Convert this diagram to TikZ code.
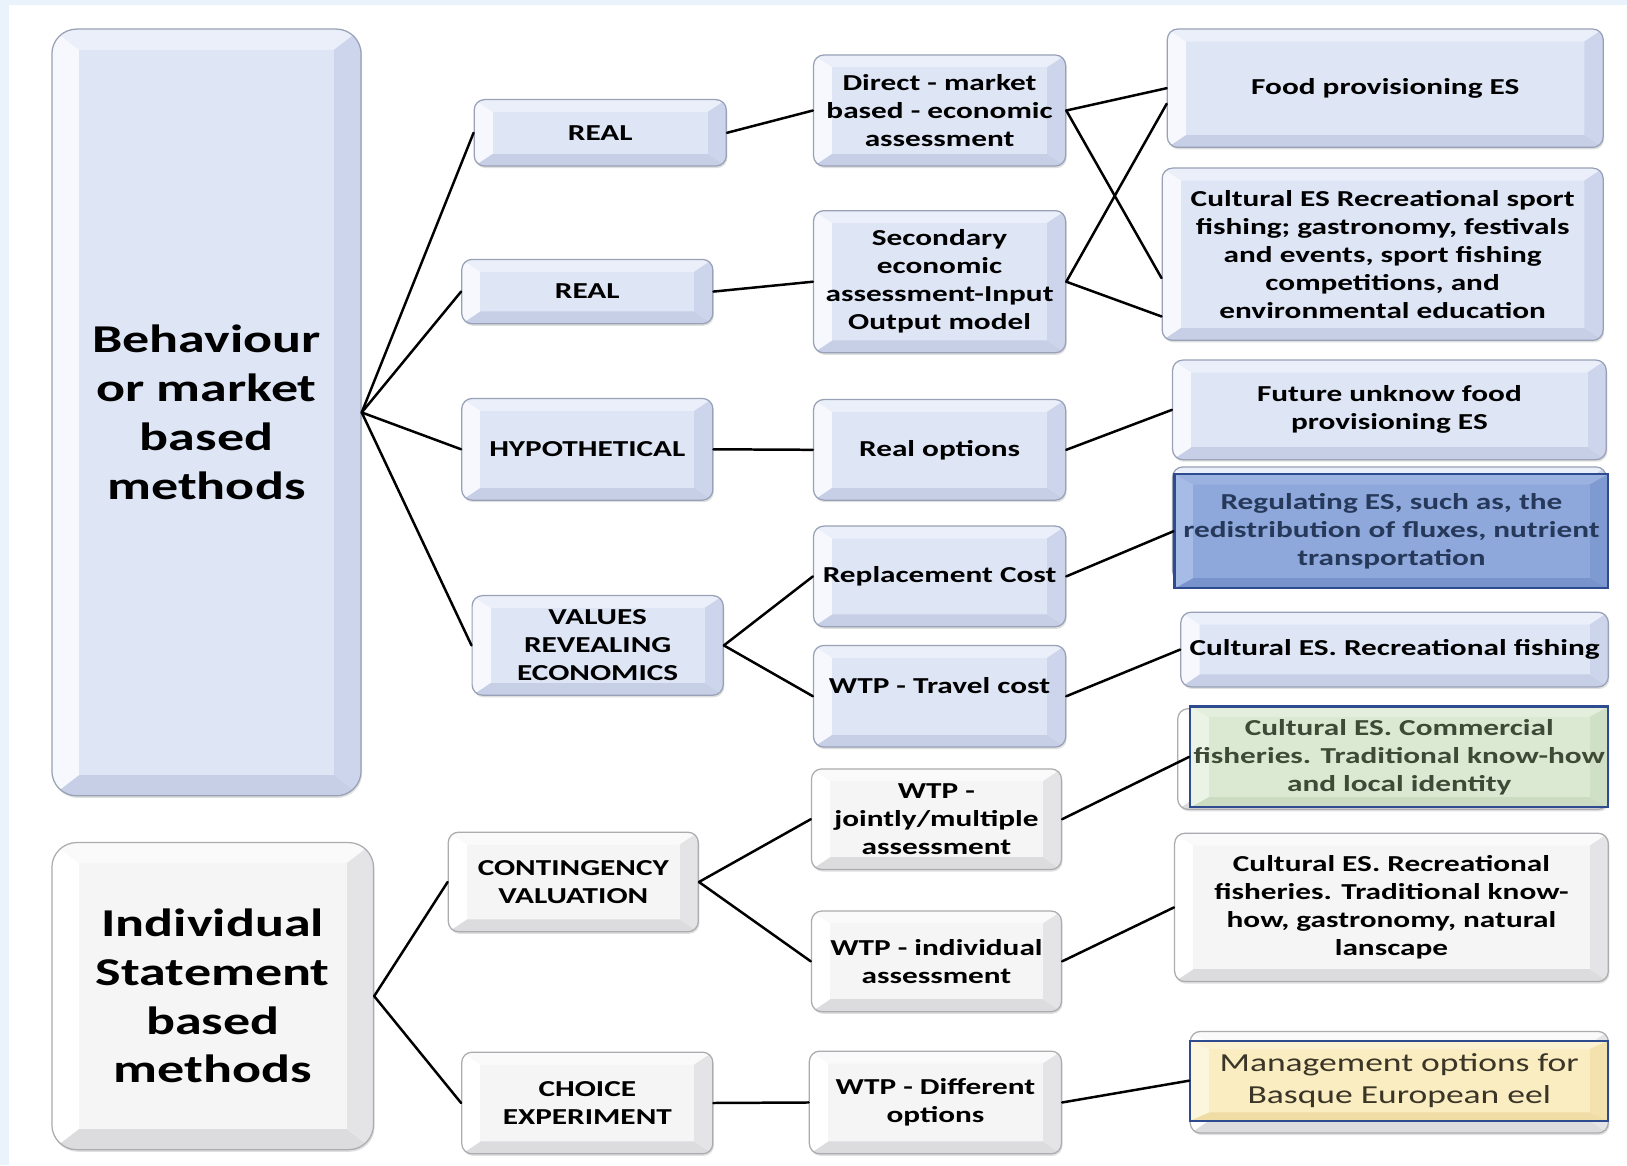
\documentclass[tikz,border=0pt]{standalone}
\usepackage{fontspec}
\newfontfamily\cf{Carlito}[FakeStretch=1.37]
\usetikzlibrary{calc,shadows}
% lavender bevel
\definecolor{lin}{HTML}{DEE5F5}
\definecolor{ltop}{HTML}{EAEFFA}
\definecolor{llft}{HTML}{F6F8FD}
\definecolor{lrgt}{HTML}{CCD5EB}
\definecolor{lbot}{HTML}{C6CFE6}
\definecolor{ldraw}{HTML}{98A1B6}
% gray bevel
\definecolor{gin}{HTML}{F5F5F6}
\definecolor{gtop}{HTML}{FAFAFA}
\definecolor{glft}{HTML}{FFFFFF}
\definecolor{grgt}{HTML}{E4E4E6}
\definecolor{gbot}{HTML}{DCDCDE}
\definecolor{gdraw}{HTML}{ACACB0}
% blue tinted
\definecolor{rin}{HTML}{8EA8DB}
\definecolor{rtop}{HTML}{9BB2E1}
\definecolor{rlft}{HTML}{A6BCE6}
\definecolor{rrgt}{HTML}{7F9AD1}
\definecolor{rbot}{HTML}{7993CC}
\definecolor{regtext}{HTML}{27395A}
% green tinted
\definecolor{nin}{HTML}{DBE9D3}
\definecolor{ntop}{HTML}{E3EEDC}
\definecolor{nlft}{HTML}{EBF3E6}
\definecolor{nrgt}{HTML}{D0E0C6}
\definecolor{nbot}{HTML}{CCDCC2}
\definecolor{grntext}{HTML}{3D4B36}
% yellow tinted
\definecolor{yin}{HTML}{FAEDC2}
\definecolor{ytop}{HTML}{FCF2D2}
\definecolor{ylft}{HTML}{FDF6DF}
\definecolor{yrgt}{HTML}{F3E2AE}
\definecolor{ybot}{HTML}{F0DDA6}
\definecolor{ylwtext}{HTML}{3B3527}
\definecolor{frame}{HTML}{2D4B8E}
\definecolor{bgblue}{HTML}{EAF3FB}
\tikzset{
  facets/.style n args={7}{% inner, top, left, right, bottom, hx, vy
    path picture={
      \coordinate (o1) at (path picture bounding box.south west);
      \coordinate (o2) at (path picture bounding box.south east);
      \coordinate (o3) at (path picture bounding box.north east);
      \coordinate (o4) at (path picture bounding box.north west);
      \coordinate (i1) at ($(o1)+(#6,#7)$);
      \coordinate (i2) at ($(o2)+(-#6,#7)$);
      \coordinate (i3) at ($(o3)+(-#6,-#7)$);
      \coordinate (i4) at ($(o4)+(#6,-#7)$);
      \fill[#2, sharp corners] (o4) -- (o3) -- (i3) -- (i4) -- cycle;
      \fill[#5, sharp corners] (o1) -- (o2) -- (i2) -- (i1) -- cycle;
      \fill[#3, sharp corners] (o1) -- (o4) -- (i4) -- (i1) -- cycle;
      \fill[#4, sharp corners] (o2) -- (o3) -- (i3) -- (i2) -- cycle;
      \fill[#1, sharp corners] (i1) rectangle (i3);
    }},
  basebox/.style={rounded corners=5pt, line width=0.6pt, inner sep=0pt, align=center,
    drop shadow={shadow xshift=0.5pt, shadow yshift=-1pt, opacity=0.25}},
  lav/.style={basebox, draw=ldraw, fill=lin, facets={lin}{ltop}{llft}{lrgt}{lbot}{9pt}{6pt}},
  gry/.style={basebox, draw=gdraw, fill=gin, facets={gin}{gtop}{glft}{grgt}{gbot}{9pt}{6pt}},
  lavbig/.style={basebox, rounded corners=12pt, draw=ldraw, fill=lin, facets={lin}{ltop}{llft}{lrgt}{lbot}{13pt}{10pt}},
  grybig/.style={basebox, rounded corners=12pt, draw=gdraw, fill=gin, facets={gin}{gtop}{glft}{grgt}{gbot}{13pt}{10pt}},
  regbox/.style={draw=frame, line width=1.1pt, inner sep=0pt, align=center, text=regtext, fill=rin,
    facets={rin}{rtop}{rlft}{rrgt}{rbot}{9pt}{5pt}},
  grnbox/.style={draw=frame, line width=1.1pt, inner sep=0pt, align=center, text=grntext, fill=nin,
    facets={nin}{ntop}{nlft}{nrgt}{nbot}{9pt}{5pt}},
  ylwbox/.style={draw=frame, line width=1.1pt, inner sep=0pt, align=center, text=ylwtext, fill=yin,
    facets={yin}{ytop}{ylft}{yrgt}{ybot}{9pt}{4pt}},
  sm/.style={font=\cf\bfseries\fontsize{11pt}{13.5pt}\selectfont},
  bigf/.style={font=\cf\bfseries\fontsize{19pt}{23.5pt}\selectfont},
  conn/.style={draw=black, line width=1.2pt, line cap=round},
}
\begin{document}
\begin{tikzpicture}[x=0.5pt,y=-0.5pt]
\useasboundingbox (0,0) rectangle (1568,1123);
\fill[bgblue] (0,0) rectangle (1568,1123);
\fill[white] (9,5) rectangle (1568,1123);

% column 1
\node[lavbig, bigf, minimum width=149pt, minimum height=369.5pt] (B1) at (199,397.5) {Behaviour\\or market\\based\\methods};
\node[grybig, bigf, minimum width=155pt, minimum height=148pt] (B2) at (205,960) {Individual\\Statement\\based\\methods};

% column 2
\node[lav, sm, minimum width=121.5pt, minimum height=32pt] (REAL1) at (578.5,128) {REAL};
\node[lav, sm, minimum width=121pt, minimum height=31pt] (REAL2) at (566,281) {REAL};
\node[lav, sm, minimum width=121pt, minimum height=49pt] (HYPO) at (566,433) {HYPOTHETICAL};
\node[lav, sm, minimum width=121pt, minimum height=48pt] (VAL) at (576,622) {VALUES\\REVEALING\\ECONOMICS};
\node[gry, sm, minimum width=120.5pt, minimum height=48pt] (CONT) at (552.5,850) {CONTINGENCY\\VALUATION};
\node[gry, sm, minimum width=121pt, minimum height=49pt] (CHOICE) at (566,1063) {CHOICE\\EXPERIMENT};

% column 3
\node[lav, sm, minimum width=121.5pt, minimum height=53.5pt] (DIR) at (905.5,106.5) {Direct - market\\based - economic\\assessment};
\node[lav, sm, minimum width=121.5pt, minimum height=68.5pt] (SEC) at (905.5,271.5) {Secondary\\economic\\assessment-Input\\Output model};
\node[lav, sm, minimum width=121.5pt, minimum height=48.5pt] (RO) at (905.5,433.5) {Real options};
\node[lav, sm, minimum width=121.5pt, minimum height=48.5pt] (RC) at (905.5,555.5) {Replacement Cost};
\node[lav, sm, minimum width=121.5pt, minimum height=49pt] (TC) at (905.5,671) {\raisebox{10pt}{WTP - Travel cost}};
\node[gry, sm, minimum width=120.5pt, minimum height=48.5pt] (JM) at (902.5,789.5) {WTP -\\jointly/multiple\\assessment};
\node[gry, sm, minimum width=120.5pt, minimum height=48.5pt] (IA) at (902.5,926.5) {WTP - individual\\assessment};
\node[gry, sm, minimum width=121.5pt, minimum height=49.5pt] (DO) at (901.5,1062.5) {WTP - Different\\options};

% column 4
\node[lav, sm, minimum width=210pt, minimum height=57pt] (FOOD) at (1335,85) {Food provisioning ES};
\node[lav, sm, minimum width=212.5pt, minimum height=83pt] (CSPORT) at (1332.5,245) {Cultural ES Recreational sport\\fishing; gastronomy, festivals\\and events, sport fishing\\competitions, and\\environmental education};
\node[lav, sm, minimum width=209pt, minimum height=48pt] (FUT) at (1339,395) {Future unknow food\\provisioning ES};
\node[lav, minimum width=209pt, minimum height=55pt] (REGB) at (1339,505) {};
\node[regbox, sm, minimum width=209pt, minimum height=55pt] (REG) at (1341,512) {Regulating ES, such as, the\\redistribution of fluxes, nutrient\\transportation};
\node[lav, sm, minimum width=206pt, minimum height=36pt] (CFISH) at (1344,626) {Cultural ES. Recreational fishing};
\node[gry, minimum width=207.5pt, minimum height=48.5pt] (COMB) at (1342.5,731.5) {};
\node[grnbox, sm, minimum width=201.5pt, minimum height=48.5pt] (COM) at (1348.5,729.5) {Cultural ES. Commercial\\fisheries. Traditional know-how\\and local identity};
\node[gry, sm, minimum width=209pt, minimum height=71.5pt] (CFSH) at (1341,874.5) {Cultural ES. Recreational\\fisheries. Traditional know-\\how, gastronomy, natural\\lanscape};
\node[gry, minimum width=201.5pt, minimum height=49pt] (MGB) at (1348.5,1043) {};
\node[ylwbox, font=\cf\fontsize{12.5pt}{15.5pt}\selectfont, minimum width=201.5pt, minimum height=38.5pt] (MG) at (1348.5,1041.5) {Management options for\\Basque European eel};

% connectors
\draw[conn] (B1.east) -- (REAL1.west);
\draw[conn] (B1.east) -- (REAL2.west);
\draw[conn] (B1.east) -- (HYPO.west);
\draw[conn] (B1.east) -- (VAL.west);
\draw[conn] (B2.east) -- (CONT.west);
\draw[conn] (B2.east) -- (CHOICE.west);
\draw[conn] (REAL1.east) -- (DIR.west);
\draw[conn] (REAL2.east) -- (SEC.west);
\draw[conn] (HYPO.east) -- (RO.west);
\draw[conn] (VAL.east) -- (RC.west);
\draw[conn] (VAL.east) -- (TC.west);
\draw[conn] (CONT.east) -- (JM.west);
\draw[conn] (CONT.east) -- (IA.west);
\draw[conn] (CHOICE.east) -- (DO.west);
\draw[conn] (DIR.east) -- (FOOD.west);
\draw[conn] (DIR.east) -- ([yshift=-11.5pt]CSPORT.west);
\draw[conn] (SEC.east) -- ([yshift=-7.5pt]FOOD.west);
\draw[conn] (SEC.east) -- ([yshift=-30pt]CSPORT.west);
\draw[conn] (RO.east) -- (FUT.west);
\draw[conn] (RC.east) -- (REG.west);
\draw[conn] (TC.east) -- (CFISH.west);
\draw[conn] (JM.east) -- (COM.west);
\draw[conn] (IA.east) -- (CFSH.west);
\draw[conn] (DO.east) -- (MG.west);
\end{tikzpicture}
\end{document}
